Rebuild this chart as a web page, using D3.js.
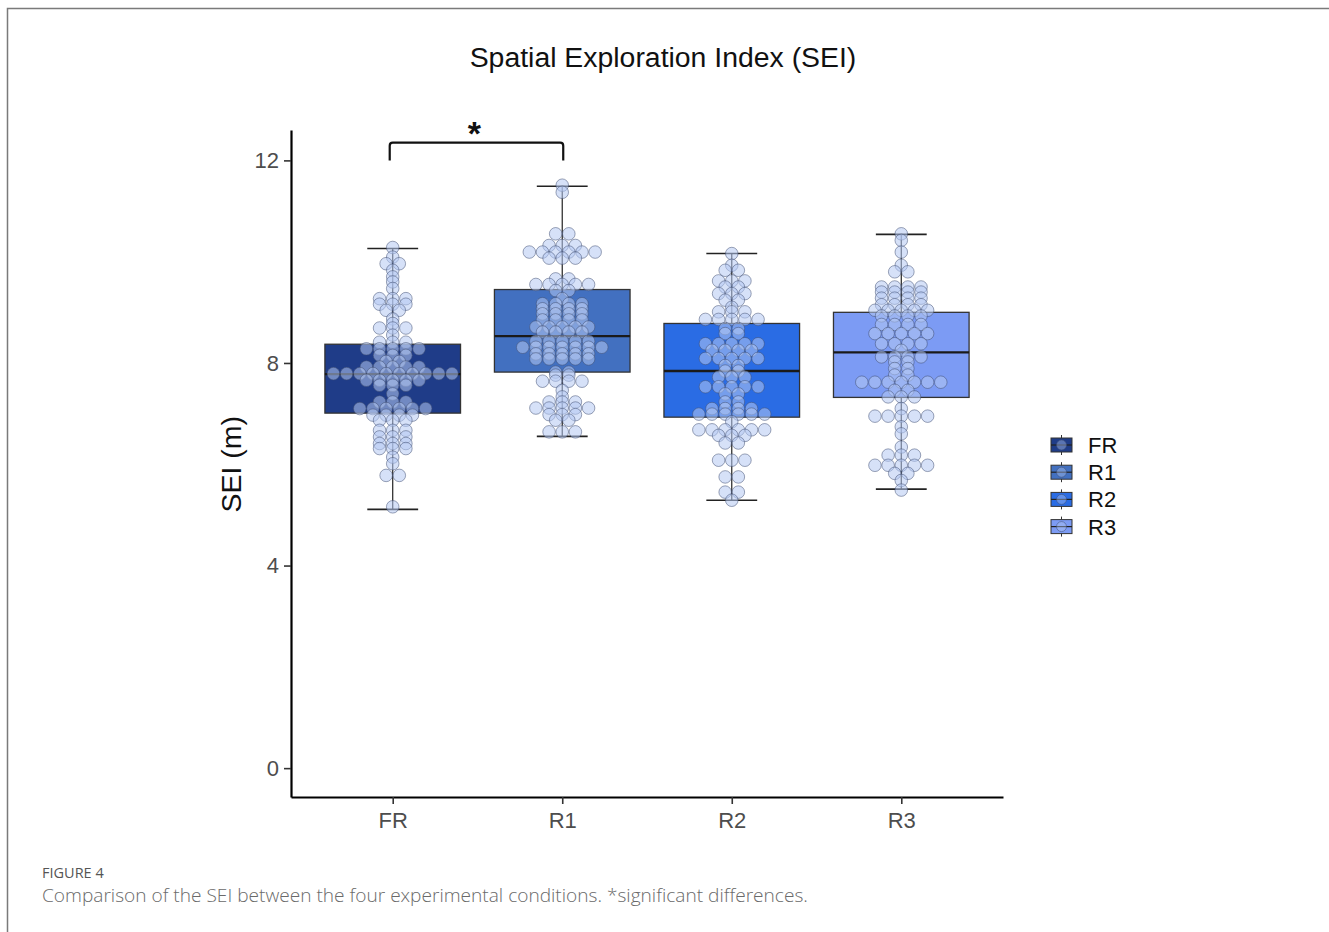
<!DOCTYPE html>
<html>
<head>
<meta charset="utf-8">
<script src="https://cdn.jsdelivr.net/npm/d3@7"></script>
<style>
  body { margin: 0; background: #fff; }
  svg { display: block; }
  text { font-family: "Liberation Sans", Arial, sans-serif; }
  .cap { font-family: "Open Sans", "Noto Sans", sans-serif; }
</style>
</head>
<body>
<svg id="chart" width="1329" height="932"></svg>
<script>
// conditions and box colours
const groups = ['FR', 'R1', 'R2', 'R3'];
const fills = ['#1f3c88', '#4270c0', '#2a6ce4', '#7c9bf4'];

// box stats: [lower whisker, Q1, median, Q3, upper whisker]
const boxFR = [5.11, 7.01, 7.78, 8.37, 10.26];
const boxR1 = [6.55, 7.82, 8.53, 9.45, 11.49];
const boxR2 = [5.29, 6.93, 7.84, 8.78, 10.16];
const boxR3 = [5.51, 7.32, 8.21, 9.00, 10.54];

// dotplot rows: [SEI value, number of dots in the stack]
const dotsFR = [[10.28,1],[10.09,1],[9.96,2],[9.83,1],[9.70,1],[9.60,1],[9.47,1],[9.27,3],[9.16,3],
  [9.04,2],[8.87,1],[8.78,1],[8.69,3],[8.55,1],[8.41,3],[8.28,5],[8.15,3],[8.03,2],[7.92,5],
  [7.79,10],[7.66,5],[7.56,3],[7.39,1],[7.23,3],[7.10,6],[6.97,4],[6.87,3],[6.67,3],[6.54,3],
  [6.41,3],[6.31,3],[6.14,1],[6.01,1],[5.78,2],[5.16,1]];
const dotsR1 = [[11.51,1],[11.37,1],[10.55,2],[10.32,3],[10.19,6],[10.07,3],[9.66,2],[9.55,5],
  [9.43,2],[9.27,1],[9.17,4],[9.07,4],[8.97,4],[8.85,4],[8.71,5],[8.61,4],[8.43,5],[8.31,7],
  [8.18,5],[8.08,5],[7.82,2],[7.76,2],[7.64,4],[7.46,1],[7.33,1],[7.23,3],[7.11,5],[6.98,3],
  [6.87,2],[6.64,3]];
const dotsR2 = [[10.16,1],[9.93,1],[9.83,2],[9.62,3],[9.50,2],[9.37,3],[9.24,2],[9.10,1],[9.01,3],
  [8.86,5],[8.68,2],[8.58,2],[8.38,5],[8.25,4],[8.09,5],[7.95,2],[7.84,2],[7.72,3],[7.53,5],
  [7.39,2],[7.23,2],[7.10,4],[6.99,6],[6.84,1],[6.68,6],[6.57,3],[6.42,2],[6.08,3],[5.75,2],
  [5.45,2],[5.29,1]];
const dotsR3 = [[10.55,1],[10.42,1],[10.19,1],[9.93,1],[9.80,2],[9.50,4],[9.40,4],[9.28,4],[9.15,4],
  [9.04,5],[8.93,4],[8.76,4],[8.58,5],[8.38,4],[8.25,1],[8.12,4],[8.02,2],[7.89,2],[7.76,2],
  [7.62,7],[7.46,2],[7.33,3],[7.10,1],[6.95,5],[6.74,1],[6.60,1],[6.34,1],[6.18,3],[5.98,5],
  [5.82,2],[5.68,1],[5.49,1]];

const yTicks = [0, 4, 8, 12];
const binwidth = 0.26;
// significance bracket between FR and R1
const sigPair = ['FR', 'R1'];
const sigY = [12.0, 12.35];

const boxes = [boxFR, boxR1, boxR2, boxR3];
const dots = [dotsFR, dotsR1, dotsR2, dotsR3];

const svg = d3.select('#chart');

// page frame
svg.append('path').attr('d', 'M7.5,932 V8.5 H1329')
  .attr('fill', 'none').attr('stroke', '#7a7a7a').attr('stroke-width', 1.5);

const x = d3.scalePoint().domain(groups).range([291, 1003]).padding(0.6);
const y = d3.scaleLinear().domain([-0.57, 12.6]).range([797, 130]);
const step = x.step();
const boxW = step * 0.8, capW = step * 0.3;
const dotD = y(0) - y(binwidth);

// title
svg.append('text').attr('x', 663).attr('y', 67).attr('text-anchor', 'middle')
  .attr('font-size', 28.4).attr('fill', '#111').text('Spatial Exploration Index (SEI)');

// axes
const gy = svg.append('g').attr('transform', 'translate(291,0)')
  .call(d3.axisLeft(y).tickValues(yTicks).tickFormat(d3.format('d')).tickSize(7).tickSizeOuter(0).tickPadding(5));
const gx = svg.append('g').attr('transform', 'translate(0,797)')
  .call(d3.axisBottom(x).tickSize(7).tickSizeOuter(0).tickPadding(8));
[gy, gx].forEach(g => {
  g.select('.domain').attr('stroke', '#000').attr('stroke-width', 2.2);
  g.selectAll('.tick line').attr('stroke', '#333').attr('stroke-width', 1.6);
  g.selectAll('.tick text').attr('fill', '#4d4d4d').attr('font-size', 22)
    .attr('font-family', '"Liberation Sans", Arial, sans-serif');
});

svg.append('text').attr('transform', `translate(241,${y(6.0)}) rotate(-90)`)
  .attr('text-anchor', 'middle').attr('font-size', 28.5).attr('fill', '#111').text('SEI (m)');

// boxes with whiskers and caps
const bg = svg.selectAll('g.box').data(groups).enter().append('g').attr('class', 'box');
bg.each(function(g, i) {
  const s = boxes[i], cx = x(g), sel = d3.select(this);
  sel.append('line').attr('x1', cx).attr('x2', cx).attr('y1', y(s[0])).attr('y2', y(s[4]))
    .attr('stroke', '#222').attr('stroke-width', 1.2);
  [s[0], s[4]].forEach(v => sel.append('line')
    .attr('x1', cx - capW / 2).attr('x2', cx + capW / 2).attr('y1', y(v)).attr('y2', y(v))
    .attr('stroke', '#222').attr('stroke-width', 1.6));
  sel.append('rect').attr('x', cx - boxW / 2).attr('width', boxW)
    .attr('y', y(s[3])).attr('height', y(s[1]) - y(s[3]))
    .attr('fill', fills[i]).attr('stroke', '#333').attr('stroke-width', 1.3);
  sel.append('line').attr('x1', cx - boxW / 2).attr('x2', cx + boxW / 2).attr('y1', y(s[2])).attr('y2', y(s[2]))
    .attr('stroke', '#1a1a1a').attr('stroke-width', 2.4);
});

// centred dot stacks
const pts = [];
groups.forEach((g, i) => dots[i].forEach(([v, n]) => {
  for (let k = 0; k < n; k++) pts.push({ cx: x(g) + (k - (n - 1) / 2) * dotD, v });
}));
svg.append('g').selectAll('circle').data(pts).enter().append('circle')
  .attr('cx', d => d.cx).attr('cy', d => y(d.v)).attr('r', dotD / 2 - 0.3)
  .attr('fill', '#b4c9f2').attr('fill-opacity', 0.55)
  .attr('stroke', '#3d4b70').attr('stroke-opacity', 0.5).attr('stroke-width', 1);

// significance bracket
const bx1 = x(sigPair[0]) - 3, bx2 = x(sigPair[1]) + 1;
svg.append('path')
  .attr('d', `M${bx1},${y(sigY[0])} V${y(sigY[1]) + 3} Q${bx1},${y(sigY[1])} ${bx1 + 3},${y(sigY[1])} H${bx2 - 3} Q${bx2},${y(sigY[1])} ${bx2},${y(sigY[1]) + 3} V${y(sigY[0])}`)
  .attr('fill', 'none').attr('stroke', '#111').attr('stroke-width', 2.2);
svg.append('text').attr('x', (bx1 + bx2) / 2 - 2).attr('y', y(sigY[1]) + 2).attr('text-anchor', 'middle')
  .attr('font-size', 34).attr('font-weight', 'bold').attr('fill', '#111').text('*');

// legend
const lg = svg.selectAll('g.leg').data(groups).enter().append('g').attr('class', 'leg')
  .attr('transform', (d, i) => `translate(1051,${445 + i * 27.2})`);
lg.append('line').attr('x1', 10.5).attr('x2', 10.5).attr('y1', -10).attr('y2', 10)
  .attr('stroke', '#333').attr('stroke-width', 1);
lg.append('rect').attr('x', 0).attr('y', -7).attr('width', 21).attr('height', 14)
  .attr('fill', (d, i) => fills[i]).attr('stroke', '#333').attr('stroke-width', 1);
lg.append('line').attr('x1', 0).attr('x2', 21).attr('y1', 0).attr('y2', 0)
  .attr('stroke', '#222').attr('stroke-width', 1.2);
lg.append('circle').attr('cx', 10.5).attr('cy', 0).attr('r', 5)
  .attr('fill', '#b4c9f2').attr('fill-opacity', 0.4).attr('stroke', '#3d4b70').attr('stroke-opacity', 0.5);
lg.append('text').attr('x', 37).attr('y', 8).attr('font-size', 22).attr('fill', '#111').text(d => d);

// caption
svg.append('text').attr('class', 'cap').attr('x', 42).attr('y', 878)
  .attr('font-size', 14.5).attr('fill', '#555').text('FIGURE 4');
svg.append('text').attr('class', 'cap').attr('x', 42).attr('y', 902)
  .attr('font-size', 19.1).attr('fill', '#6a6a6a').attr('font-weight', 300)
  .text('Comparison of the SEI between the four experimental conditions. *significant differences.');
</script>
</body>
</html>
